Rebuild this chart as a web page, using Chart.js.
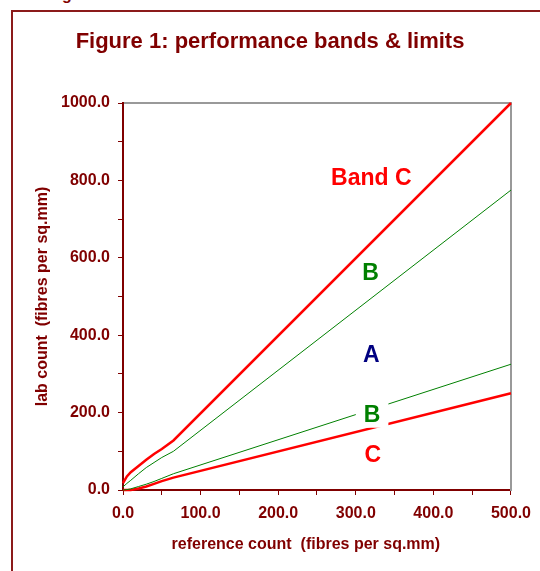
<!DOCTYPE html>
<html>
<head>
<meta charset="utf-8">
<script src="https://cdn.jsdelivr.net/npm/chart.js@4"></script>
<style>
  html, body { margin: 0; padding: 0; background: #ffffff; overflow: hidden; }
  #wrap { position: relative; width: 540px; height: 571px; overflow: hidden; }
  #frame { position: absolute; left: 11px; top: 10px; width: 700px; height: 700px;
           border: 2px solid #8b1a1a; box-sizing: border-box; }
  #cut { position: absolute; left: 62px; top: -13px; font: bold 16px "Liberation Sans", Arial, sans-serif;
         line-height: 16px; color: #800000; }
  canvas { position: absolute; left: 0; top: 0; }
</style>
</head>
<body>
<div id="wrap">
  <div id="cut">g</div>
  <div id="frame"></div>
  <canvas id="c" width="540" height="571"></canvas>
</div>
<script>
// ---- data ----
const refCounts = [0, 5, 10, 20, 30, 40, 50, 65, 500];
const upperC    = [18, 35, 46, 62, 78, 93, 106, 128, 1000];
const upperB    = [8, 17, 25, 42, 58, 71, 84, 100, 775];
const lowerB    = [0, 1, 3, 9, 15, 22, 30, 42, 325];
const lowerC    = [0, 0, 0, 4, 9, 16, 23, 32, 250];

const bandLabels   = ["Band C", "B", "A", "B", "C"];
const bandLabelX   = [320, 319, 320, 321, 322];
const bandLabelY   = [809, 565, 351, 197, 93];
const bandLabelClr = ["#ff0000", "#008000", "#000080", "#008000", "#ff0000"];
const bandLabelBg  = [false, false, false, true, false];

const xTickStep = 50, xLabelStep = 100;
const yTickStep = 100, yLabelStep = 200;

const DARK = "#800000";
const FONT = "'Liberation Sans', Arial, sans-serif";

function pts(ys) { return refCounts.map((x, i) => ({ x: x, y: ys[i] })); }

const labelPlugin = {
  id: 'bandLabels',
  afterDatasetsDraw(chart) {
    const { ctx, scales: { x, y } } = chart;
    ctx.save();
    const size = 23;
    ctx.font = "bold " + size + "px " + FONT;
    ctx.textAlign = 'center';
    ctx.textBaseline = 'alphabetic';
    bandLabels.forEach((t, i) => {
      const px = x.getPixelForValue(bandLabelX[i]);
      const py = y.getPixelForValue(bandLabelY[i]);
      const w = ctx.measureText(t).width;
      if (bandLabelBg[i]) {
        ctx.fillStyle = '#ffffff';
        ctx.fillRect(px - w / 2 - 8, py - 14, w + 16, 28);
      }
      ctx.fillStyle = bandLabelClr[i];
      ctx.fillText(t, px, py + size * 0.358);
    });
    ctx.restore();
  }
};

new Chart(document.getElementById('c'), {
  type: 'line',
  data: {
    datasets: [
      { data: pts(upperC), borderColor: '#ff0000', borderWidth: 2.5 },
      { data: pts(upperB), borderColor: '#008000', borderWidth: 1 },
      { data: pts(lowerB), borderColor: '#008000', borderWidth: 1 },
      { data: pts(lowerC), borderColor: '#ff0000', borderWidth: 2.5 }
    ]
  },
  options: {
    responsive: false,
    animation: false,
    devicePixelRatio: 1,
    clip: 4,
    elements: { point: { radius: 0 }, line: { tension: 0, fill: false } },
    layout: { padding: 0 },
    plugins: {
      legend: { display: false },
      tooltip: { enabled: false },
      title: {
        display: true,
        text: 'Figure 1: performance bands & limits',
        color: DARK,
        font: { family: FONT, size: 22, weight: 'bold' },
        padding: { top: 29, bottom: 47.6 }
      }
    },
    scales: {
      x: {
        type: 'linear', position: 'bottom', min: 0, max: 500,
        afterFit(s) { s.height = 81; },
        border: { display: true, color: DARK, width: 2 },
        grid: { display: true, drawOnChartArea: false, drawTicks: true, tickLength: 5, color: DARK, lineWidth: 1 },
        ticks: {
          stepSize: xTickStep, autoSkip: false, maxRotation: 0, padding: 9, color: DARK,
          font: { family: FONT, size: 16, weight: 'bold' },
          callback: v => (v % xLabelStep === 0 ? v.toFixed(1) : '')
        },
        title: {
          display: true, text: 'reference count  (fibres per sq.mm)\u00a0\u00a0\u00a0\u00a0\u00a0', color: DARK,
          font: { family: FONT, size: 16, weight: 'bold' },
          padding: { top: 0, bottom: 16.4 }
        }
      },
      x2: {
        type: 'linear', position: 'top', min: 0, max: 500,
        afterFit(s) { s.height = 0; },
        border: { display: true, color: '#999999', width: 2 },
        grid: { display: false },
        ticks: { display: false }
      },
      y: {
        type: 'linear', position: 'left', min: 0, max: 1000,
        afterFit(s) { s.width = 123; },
        border: { display: true, color: DARK, width: 2 },
        grid: { display: true, drawOnChartArea: false, drawTicks: true, tickLength: 5, color: DARK, lineWidth: 1 },
        ticks: {
          stepSize: yTickStep, autoSkip: false, padding: 8, color: DARK,
          font: { family: FONT, size: 16, weight: 'bold' },
          callback: v => (v % yLabelStep === 0 ? v.toFixed(1) : '')
        },
        title: {
          display: true, text: 'lab count  (fibres per sq.mm)', color: DARK,
          font: { family: FONT, size: 16, weight: 'bold' },
          padding: { top: 33.4, bottom: 0 }
        }
      },
      y2: {
        type: 'linear', position: 'right', min: 0, max: 1000,
        afterFit(s) { s.width = 29; },
        border: { display: true, color: '#999999', width: 2 },
        grid: { display: false },
        ticks: { display: false }
      }
    }
  },
  plugins: [labelPlugin]
});
</script>
</body>
</html>
